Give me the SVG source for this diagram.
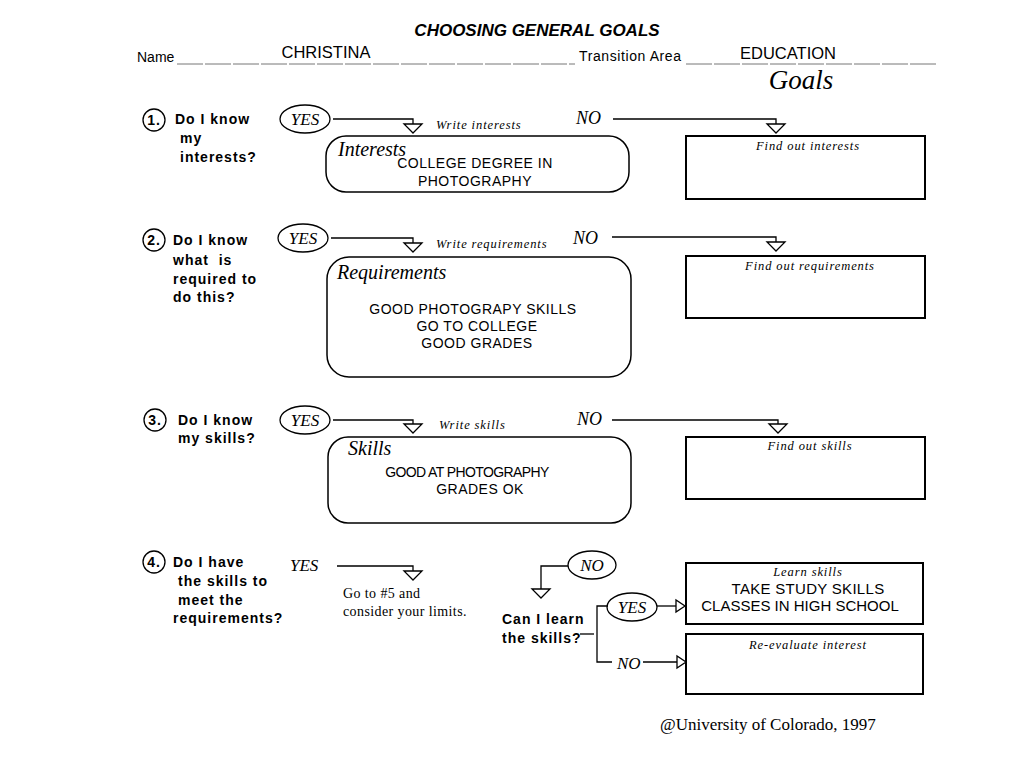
<svg xmlns="http://www.w3.org/2000/svg" width="1024" height="768" viewBox="0 0 1024 768">
<style>
.sans{font-family:"Liberation Sans",Arial,sans-serif;fill:#000}
.serif{font-family:"Liberation Serif","Times New Roman",serif;fill:#000}
.q{font-family:"Liberation Sans",Arial,sans-serif;font-weight:bold;font-size:14px;fill:#000;letter-spacing:1px}
.it{font-family:"Liberation Serif","Times New Roman",serif;font-style:italic;fill:#000}
.sm{font-size:12.5px;letter-spacing:0.9px}
.body{font-size:14px;letter-spacing:0.5px}
.ln{fill:none;stroke:#000;stroke-width:1.3}
.box{fill:#fff;stroke:#000;stroke-width:2}
.rbox{fill:#fff;stroke:#000;stroke-width:1.5}
.tri{fill:#fff;stroke:#000;stroke-width:1.3}
.ul{stroke:#777;stroke-width:1;stroke-dasharray:26 2}
</style>
<rect width="1024" height="768" fill="#fff"/>

<g id="header">
<text x="537" y="36" text-anchor="middle" class="sans" font-size="17" font-weight="bold" font-style="italic">CHOOSING GENERAL GOALS</text>
<text x="137" y="62" class="sans" font-size="14">Name</text>
<line x1="177" y1="64" x2="575" y2="64" class="ul"/>
<text x="326" y="58" text-anchor="middle" class="sans" font-size="16.5">CHRISTINA</text>
<text x="579" y="61" class="sans" font-size="14" letter-spacing="0.6">Transition Area</text>
<line x1="686" y1="64" x2="938" y2="64" class="ul"/>
<text x="788" y="59" text-anchor="middle" class="sans" font-size="16.5">EDUCATION</text>
<text x="801" y="89" text-anchor="middle" class="it" font-size="27">Goals</text>
</g>

<g id="q1">
<circle cx="154" cy="120" r="11" fill="#fff" stroke="#000" stroke-width="1.3"/>
<text x="154" y="125" text-anchor="middle" class="q" letter-spacing="0">1.</text>
<text x="175" y="124" class="q">Do I know</text>
<text x="180" y="143" class="q">my</text>
<text x="180" y="162" class="q">interests?</text>
</g>
<g id="yes1"><ellipse cx="305" cy="119" rx="25" ry="14" fill="#fff" stroke="#000" stroke-width="1.3"/><text x="305" y="125" text-anchor="middle" class="it" font-size="17">YES</text></g>
<text x="436" y="129" class="it sm">Write interests</text>
<text x="576" y="124" class="it" font-size="18">NO</text>
<g id="interests"><rect x="326" y="136" width="303" height="56" rx="20" class="rbox"/>
<text x="338" y="156" class="it" font-size="20">Interests</text>
<text x="475" y="168" text-anchor="middle" class="sans body">COLLEGE DEGREE IN</text>
<text x="475" y="186" text-anchor="middle" class="sans body">PHOTOGRAPHY</text></g>
<g id="findInterests"><rect x="686" y="136" width="239" height="63" class="box"/>
<text x="808" y="150" text-anchor="middle" class="it sm">Find out interests</text></g>

<g id="q2">
<circle cx="154" cy="240" r="11" fill="#fff" stroke="#000" stroke-width="1.3"/>
<text x="154" y="245" text-anchor="middle" class="q" letter-spacing="0">2.</text>
<text x="173" y="245" class="q">Do I know</text>
<text x="173" y="265" class="q" xml:space="preserve">what  is</text>
<text x="173" y="284" class="q">required to</text>
<text x="173" y="302" class="q">do this?</text>
</g>
<g id="yes2"><ellipse cx="303" cy="238" rx="25" ry="14" fill="#fff" stroke="#000" stroke-width="1.3"/><text x="303" y="244" text-anchor="middle" class="it" font-size="17">YES</text></g>
<text x="436" y="248" class="it sm">Write requirements</text>
<text x="573" y="244" class="it" font-size="18">NO</text>
<g id="requirements"><rect x="327" y="257" width="304" height="120" rx="22" class="rbox"/>
<text x="337" y="279" class="it" font-size="20">Requirements</text>
<text x="473" y="314" text-anchor="middle" class="sans body">GOOD PHOTOGRAPY SKILLS</text>
<text x="477" y="331" text-anchor="middle" class="sans body">GO TO COLLEGE</text>
<text x="477" y="348" text-anchor="middle" class="sans body">GOOD GRADES</text></g>
<g id="findRequirements"><rect x="686" y="256" width="239" height="62" class="box"/>
<text x="810" y="270" text-anchor="middle" class="it sm">Find out requirements</text></g>

<g id="q3">
<circle cx="155" cy="420" r="11" fill="#fff" stroke="#000" stroke-width="1.3"/>
<text x="155" y="425" text-anchor="middle" class="q" letter-spacing="0">3.</text>
<text x="178" y="425" class="q">Do I know</text>
<text x="178" y="443" class="q">my skills?</text>
</g>
<g id="yes3"><ellipse cx="305" cy="420" rx="25" ry="14" fill="#fff" stroke="#000" stroke-width="1.3"/><text x="305" y="426" text-anchor="middle" class="it" font-size="17">YES</text></g>
<text x="439" y="429" class="it sm">Write skills</text>
<text x="577" y="425" class="it" font-size="18">NO</text>
<g id="skills"><rect x="328" y="437" width="303" height="86" rx="20" class="rbox"/>
<text x="348" y="455" class="it" font-size="20">Skills</text>
<text x="467" y="477" text-anchor="middle" class="sans" font-size="14" letter-spacing="-0.6">GOOD AT PHOTOGRAPHY</text>
<text x="480" y="494" text-anchor="middle" class="sans body">GRADES OK</text></g>
<g id="findSkills"><rect x="686" y="437" width="239" height="62" class="box"/>
<text x="810" y="450" text-anchor="middle" class="it sm">Find out skills</text></g>

<g id="q4">
<circle cx="154" cy="562" r="11" fill="#fff" stroke="#000" stroke-width="1.3"/>
<text x="154" y="567" text-anchor="middle" class="q" letter-spacing="0">4.</text>
<text x="173" y="567" class="q">Do I have</text>
<text x="178" y="586" class="q">the skills to</text>
<text x="178" y="605" class="q">meet the</text>
<text x="173" y="623" class="q">requirements?</text>
</g>
<text x="290" y="571" class="it" font-size="17">YES</text>
<g id="goto5"><text x="343" y="598" class="serif" font-size="14" letter-spacing="0.4">Go to #5 and</text>
<text x="343" y="616" class="serif" font-size="14" letter-spacing="0.4">consider your limits.</text></g>
<g id="no4"><ellipse cx="592" cy="565" rx="24" ry="14" fill="#fff" stroke="#000" stroke-width="1.3"/><text x="592" y="571" text-anchor="middle" class="it" font-size="17">NO</text></g>
<g id="canLearn"><text x="502" y="624" class="q">Can I learn</text>
<text x="502" y="643" class="q">the skills?</text></g>
<g id="yes4b"><ellipse cx="632" cy="607" rx="25" ry="14" fill="#fff" stroke="#000" stroke-width="1.3"/><text x="632" y="613" text-anchor="middle" class="it" font-size="17">YES</text></g>
<text x="617" y="669" class="it" font-size="17">NO</text>
<g id="learnSkills"><rect x="686" y="563" width="237" height="61" class="box"/>
<text x="808" y="576" text-anchor="middle" class="it sm">Learn skills</text>
<text x="808" y="594" text-anchor="middle" class="sans" font-size="15" letter-spacing="0.3">TAKE STUDY SKILLS</text>
<text x="800" y="611" text-anchor="middle" class="sans" font-size="15">CLASSES IN HIGH SCHOOL</text></g>
<g id="reevaluate"><rect x="686" y="634" width="237" height="60" class="box"/>
<text x="808" y="649" text-anchor="middle" class="it sm">Re-evaluate interest</text></g>

<g id="connectors">
<path d="M333 119 H413 V124" class="ln"/><polygon points="404,124 422,124 413,133" class="tri"/>
<path d="M613 119 H776 V124" class="ln"/><polygon points="767,124 785,124 776,133" class="tri"/>
<path d="M331 238 H413 V243" class="ln"/><polygon points="404,243 422,243 413,252" class="tri"/>
<path d="M612 237 H776 V242" class="ln"/><polygon points="767,242 785,242 776,251" class="tri"/>
<path d="M333 420 H413 V424" class="ln"/><polygon points="404,424 422,424 413,433" class="tri"/>
<path d="M612 420 H778 V424" class="ln"/><polygon points="769,424 787,424 778,433" class="tri"/>
<path d="M337 566 H413 V571" class="ln"/><polygon points="404,571 422,571 413,580" class="tri"/>
<path d="M568 566 H541 V589" class="ln"/><polygon points="532,589 550,589 541,598" class="tri"/>
<path d="M580 634 H594" class="ln"/>
<path d="M608 606 H597 V662 H612" class="ln"/>
<path d="M657 606 H676" class="ln"/><polygon points="676,600 676,612 685,606" class="tri"/>
<path d="M643 662 H677" class="ln"/><polygon points="677,656 677,668 686,662" class="tri"/>
</g>

<text x="660" y="730" class="serif" font-size="17">@University of Colorado, 1997</text>
</svg>
